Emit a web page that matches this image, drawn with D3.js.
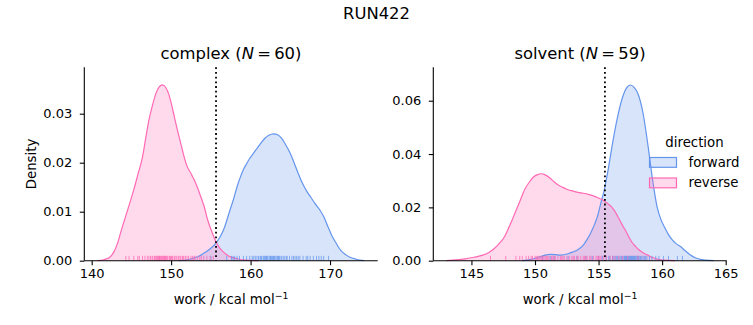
<!DOCTYPE html>
<html><head><meta charset="utf-8">
<script src="https://cdn.jsdelivr.net/npm/d3@7"></script>
<style>
body{margin:0;background:#fff;}
text{font-family:"DejaVu Sans",sans-serif;fill:#000;}
</style></head>
<body><svg id="c" width="753" height="325"></svg>
<script>
// ---------- data ----------
const suptitle = "RUN422";
const directions = ["forward", "reverse"];
const colors = {forward: "#6495ED", reverse: "#FF69B4"};

// complex panel: KDE curves  [work, density]
const complexForwardKde = [[151.0,0],[152.0,0.0002],[152.8,0.0005],[153.6,0.0010],[154.3,0.0017],[154.9,0.0024],[155.7,0.0037],[156.2,0.0050],[156.6,0.0063],[157.0,0.0082],[157.4,0.0103],[157.9,0.0128],[158.3,0.0151],[158.7,0.0170],[159.1,0.0186],[159.5,0.0198],[159.9,0.0209],[160.4,0.0220],[160.8,0.0229],[161.3,0.0240],[161.8,0.0250],[162.3,0.0256],[162.9,0.0259],[163.4,0.0257],[163.9,0.0250],[164.4,0.0237],[165.0,0.0219],[165.5,0.0199],[166.0,0.0178],[166.5,0.0159],[167.1,0.0141],[167.6,0.0129],[168.1,0.0117],[168.7,0.0104],[169.2,0.0090],[169.7,0.0071],[170.2,0.0052],[170.8,0.0035],[171.3,0.0022],[171.9,0.0013],[172.5,0.0007],[173.3,0.0003],[174.3,0]];
const complexReverseKde = [[140.75,0],[141.5,0.0002],[142.2,0.0006],[142.8,0.0018],[143.3,0.0038],[143.8,0.0066],[144.3,0.0092],[144.8,0.0118],[145.3,0.0145],[145.8,0.0175],[146.4,0.0212],[146.8,0.0250],[147.2,0.0287],[147.7,0.0320],[148.1,0.0342],[148.5,0.0355],[148.9,0.0359],[149.3,0.0354],[149.7,0.0340],[150.0,0.0322],[150.4,0.0294],[150.8,0.0266],[151.2,0.0240],[151.6,0.0214],[152.0,0.0193],[152.5,0.0178],[152.9,0.0165],[153.3,0.0150],[153.7,0.0132],[154.2,0.0108],[154.6,0.0083],[155.1,0.0060],[155.6,0.0040],[156.1,0.0026],[156.7,0.0016],[157.3,0.0009],[158.3,0.0004],[159.5,0.0001],[161.0,0]];
// solvent panel
const solventForwardKde = [[149.0,0],[149.6,0.0004],[150.3,0.0013],[150.8,0.0021],[151.2,0.0024],[151.6,0.0023],[152.0,0.0021],[152.6,0.0026],[153.0,0.0033],[153.4,0.0042],[153.8,0.0058],[154.1,0.0080],[154.4,0.0106],[154.7,0.0138],[154.95,0.0172],[155.2,0.0220],[155.4,0.0255],[155.75,0.0340],[156.1,0.0440],[156.5,0.0540],[156.9,0.0615],[157.2,0.0648],[157.5,0.0659],[157.8,0.0650],[158.1,0.0626],[158.5,0.0553],[158.9,0.0428],[159.25,0.0303],[159.6,0.0203],[159.9,0.0155],[160.2,0.0125],[160.5,0.0098],[160.8,0.0078],[161.1,0.0064],[161.45,0.0053],[161.8,0.0038],[162.2,0.0022],[162.6,0.0011],[163.0,0.0005],[163.5,0.0002],[164.05,0]];
const solventReverseKde = [[143.05,0],[143.8,0.0003],[144.5,0.0007],[145.2,0.0013],[145.9,0.0021],[146.4,0.0032],[146.8,0.0046],[147.2,0.0065],[147.6,0.0090],[147.9,0.0120],[148.2,0.0153],[148.5,0.0187],[148.8,0.0222],[149.2,0.0268],[149.6,0.0298],[149.9,0.0315],[150.2,0.0323],[150.5,0.0326],[150.8,0.0322],[151.2,0.0309],[151.5,0.0296],[151.8,0.0285],[152.2,0.0275],[152.5,0.0268],[153.0,0.0261],[153.4,0.0256],[153.8,0.0253],[154.2,0.0249],[154.6,0.0243],[154.95,0.0236],[155.4,0.0226],[155.7,0.0215],[156.0,0.0203],[156.3,0.0184],[156.5,0.0167],[156.8,0.0140],[157.1,0.0115],[157.4,0.0088],[157.6,0.0071],[157.9,0.0054],[158.2,0.0040],[158.5,0.0030],[158.9,0.0020],[159.3,0.0011],[159.6,0.0006],[160.2,0.0002],[161.0,0]];

// rug samples (work values)
const complexForwardRug = [155.0,157.0,157.6,157.8,158.0,158.3,158.6,159.1,159.5,159.9,160.2,160.4,160.6,160.8,161.0,161.2,161.3,161.4,161.6,161.7,161.8,162.0,162.1,162.2,162.4,162.5,162.6,162.8,162.9,163.0,163.1,163.3,163.4,163.5,163.7,163.9,164.1,164.3,164.5,164.6,164.9,165.2,165.4,165.6,165.8,166.0,166.2,166.6,167.0,167.2,167.5,167.9,168.3,168.6,168.9,169.2,169.8,161.9,162.7,163.6];
const complexReverseRug = [144.3,144.7,145.3,145.8,146.0,146.4,146.7,147.0,147.2,147.4,147.6,147.7,147.9,148.0,148.1,148.2,148.3,148.4,148.5,148.6,148.7,148.8,148.9,149.0,149.1,149.2,149.3,149.4,149.5,149.6,149.8,149.9,150.0,150.2,150.4,150.5,150.7,150.9,151.0,151.2,151.4,151.5,151.8,152.0,152.2,152.5,152.7,152.9,153.0,153.3,153.6,153.8,154.1,154.5,154.9,155.3,148.55,149.15,150.1,151.6];
const solventForwardRug = [150.6,151.2,151.5,152.6,153.3,154.0,154.5,155.0,155.3,155.6,155.8,155.9,156.1,156.2,156.3,156.4,156.5,156.6,156.7,156.8,156.9,157.0,157.05,157.1,157.2,157.25,157.3,157.4,157.45,157.5,157.55,157.6,157.7,157.75,157.8,157.9,158.0,158.05,158.1,158.2,158.3,158.4,158.5,158.6,158.7,158.8,159.0,159.2,159.5,159.75,160.1,160.5,161.2,161.6,157.15,157.35,157.65,157.85,158.15];
const solventReverseRug = [146.5,147.7,148.5,148.8,149.0,149.3,149.5,149.7,149.8,150.0,150.1,150.3,150.4,150.5,150.6,150.7,150.8,151.0,151.1,151.3,151.5,151.6,151.8,152.0,152.1,152.3,152.5,152.7,152.9,153.1,153.3,153.4,153.6,153.8,153.9,154.1,154.3,154.4,154.6,154.8,154.9,155.1,155.2,155.4,155.6,155.9,156.1,156.3,156.6,156.9,157.3,158.1,150.2,150.9,151.4,152.2,153.0,154.0,155.0];

const panelNames = ["complex", "solvent"];
const panelN = [60, 59];
const estimates = [155.65, 155.5];            // dotted reference lines
const complexXTicks = [140, 150, 160, 170];
const complexYTicks = [0, 0.01, 0.02, 0.03];
const solventXTicks = [145, 150, 155, 160, 165];
const solventYTicks = [0, 0.02, 0.04, 0.06];

// ---------- layout ----------
const svg = d3.select("#c");
const panels = [
  {name: panelNames[0], n: panelN[0], est: estimates[0], x0: 84.3, x1: 377.7, xd: [139.07, 176.0], yd: [0, 0.03947],
   xt: complexXTicks, yt: complexYTicks,
   kde: {forward: complexForwardKde, reverse: complexReverseKde},
   rug: {forward: complexForwardRug, reverse: complexReverseRug}, ylabel: true, legend: false},
  {name: panelNames[1], n: panelN[1], est: estimates[1], x0: 433.3, x1: 726.7, xd: [142.0, 165.08], yd: [0, 0.07253],
   xt: solventXTicks, yt: solventYTicks,
   kde: {forward: solventForwardKde, reverse: solventReverseKde},
   rug: {forward: solventForwardRug, reverse: solventReverseRug}, ylabel: false, legend: true}
];
const yTop = 67.3, yBot = 260.7;

svg.append("text").attr("x", 376.5).attr("y", 19).attr("text-anchor", "middle")
  .style("font-size", "16.4px").text(suptitle);

panels.forEach(p => {
  const x = d3.scaleLinear().domain(p.xd).range([p.x0, p.x1]);
  const y = d3.scaleLinear().domain(p.yd).range([yBot, yTop]);
  const g = svg.append("g");

  const area = d3.area().x(d => x(d[0])).y0(y(0)).y1(d => y(d[1])).curve(d3.curveMonotoneX);
  const line = d3.line().x(d => x(d[0])).y(d => y(d[1])).curve(d3.curveMonotoneX);

  directions.forEach(dir => {
    g.append("path").datum(p.kde[dir]).attr("d", area)
      .attr("fill", colors[dir]).attr("fill-opacity", 0.25).attr("stroke", "none");
  });
  directions.forEach(dir => {
    g.append("path").datum(p.kde[dir]).attr("d", line)
      .attr("fill", "none").attr("stroke", colors[dir]).attr("stroke-width", 1.2);
  });
  const rugH = 0.025 * (yBot - yTop);
  directions.forEach(dir => {
    g.append("g").selectAll("line").data(p.rug[dir]).join("line")
      .attr("x1", d => x(d)).attr("x2", d => x(d))
      .attr("y1", yBot).attr("y2", yBot - rugH)
      .attr("stroke", colors[dir]).attr("stroke-width", 1).attr("stroke-opacity", 0.75);
  });

  // dotted estimate line
  g.append("line").attr("x1", x(p.est)).attr("x2", x(p.est)).attr("y1", yTop).attr("y2", yBot)
    .attr("stroke", "#000").attr("stroke-width", 1.8).attr("stroke-dasharray", "1.8,2.9");

  // axes
  const xa = g.append("g").attr("transform", `translate(0,${yBot})`)
    .call(d3.axisBottom(x).tickValues(p.xt).tickSize(4.5).tickPadding(4).tickFormat(d3.format("d")));
  const ya = g.append("g").attr("transform", `translate(${p.x0},0)`)
    .call(d3.axisLeft(y).tickValues(p.yt).tickSize(4.5).tickPadding(7.5).tickFormat(d3.format(".2f")));
  [xa, ya].forEach(a => {
    a.select(".domain").attr("stroke", "#000").attr("stroke-width", 1.1);
    a.selectAll(".tick line").attr("stroke", "#000").attr("stroke-width", 1.1);
    a.selectAll(".tick text").style("font-size", "13px").style("font-family", "DejaVu Sans").attr("fill", "#000");
  });
  xa.select(".domain").attr("d", `M${p.x0},0H${p.x1}`);
  ya.select(".domain").attr("d", `M0,${yBot}V${yTop}`);

  // title
  const t = svg.append("text").attr("x", (p.x0 + p.x1) / 2).attr("y", 59).attr("text-anchor", "middle")
    .style("font-size", "16.4px");
  t.append("tspan").text(p.name + " (");
  t.append("tspan").style("font-style", "italic").text("N");
  t.append("tspan").text("\u2009=\u2009" + p.n + ")");

  // x label
  const xl = svg.append("text").attr("x", (p.x0 + p.x1) / 2).attr("y", 304).attr("text-anchor", "middle")
    .style("font-size", "13.3px");
  xl.append("tspan").text("work / kcal mol");
  xl.append("tspan").attr("dy", -5).style("font-size", "9.3px").text("\u22121");

  if (p.ylabel) {
    svg.append("text").attr("transform", `translate(36,${(yTop + yBot) / 2}) rotate(-90)`)
      .attr("text-anchor", "middle").style("font-size", "13.3px").text("Density");
  }

  if (p.legend) {
    const lg = svg.append("g");
    lg.append("text").attr("x", 694.5).attr("y", 146.5).attr("text-anchor", "middle")
      .style("font-size", "13.3px").text("direction");
    directions.forEach((dir, i) => {
      const yy = 157.5 + i * 20.5;
      lg.append("rect").attr("x", 649.5).attr("y", yy).attr("width", 27).attr("height", 9.8)
        .attr("fill", colors[dir]).attr("fill-opacity", 0.25)
        .attr("stroke", colors[dir]).attr("stroke-width", 1.2);
      lg.append("text").attr("x", 688.5).attr("y", yy + 9.2).style("font-size", "13.3px").text(dir);
    });
  }
});
</script></body></html>
